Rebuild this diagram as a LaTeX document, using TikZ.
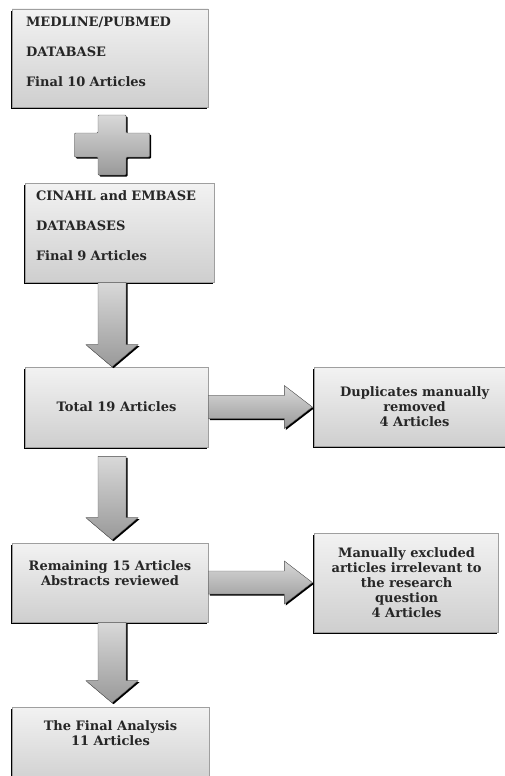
\documentclass[tikz,border=0pt]{standalone}
\usepackage{fontspec}
\setmainfont{DejaVu Serif}
\usetikzlibrary{positioning, calc, shadows}
\tikzset{
  box/.style = {draw = gray!75, line width = 0.6pt, inner sep = 0pt,
    top color = gray!10, bottom color = gray!38, text = black!85, align = center,
    font = \bfseries\fontsize{13pt}{15pt}\selectfont,
    drop shadow = {shadow xshift = -1.3pt, shadow yshift = -1.6pt, fill = black, opacity = 1}},
  listbox/.style = {box, align = left, font = \bfseries\fontsize{13pt}{30pt}\selectfont},
  block/.style = {draw = black!60, line width = 0.4pt, top color = gray!30, bottom color = gray!80,
    drop shadow = {shadow xshift = 1.5pt, shadow yshift = -1.5pt, fill = black, opacity = 1}}
}
% block arrows: #1 start of the shaft, #2 tip
\newcommand\vblock[2]{%
  \filldraw [block] ($(#1)+(-14pt,0)$) -- ($(#2)+(-14pt,22pt)$) -- ($(#2)+(-26pt,22pt)$)
    -- (#2) -- ($(#2)+(26pt,22pt)$) -- ($(#2)+(14pt,22pt)$) -- ($(#1)+(14pt,0)$) -- cycle;}
\newcommand\hblock[2]{%
  \filldraw [block] ($(#1)+(0,11.5pt)$) -- ($(#2)+(-28pt,11.5pt)$) -- ($(#2)+(-28pt,21.5pt)$)
    -- (#2) -- ($(#2)+(-28pt,-21.5pt)$) -- ($(#2)+(-28pt,-11.5pt)$) -- ($(#1)+(0,-11.5pt)$) -- cycle;}

\begin{document}
\begin{tikzpicture}

\useasboundingbox (0,0) rectangle (505pt,-776pt);
\coordinate (axis) at (112pt,0);

% main column
\node [listbox, minimum width = 196pt, minimum height = 98pt, text width = 168pt] (b1)
  at (110pt,-58pt) {MEDLINE/PUBMED\\DATABASE\\Final 10 Articles\\[-18pt]\mbox{}};
\node [listbox, minimum width = 189pt, minimum height = 99pt, text width = 167pt] (b2)
  at (119.5pt,-232.5pt) {CINAHL and EMBASE\\DATABASES\\Final 9 Articles\\[-16pt]\mbox{}};
\node [box, minimum width = 183pt, minimum height = 80pt] (b3)
  at (116.5pt,-407pt) {Total 19 Articles};
\node [box, minimum width = 196pt, minimum height = 79pt] (b4)
  at (110pt,-582.5pt) {Remaining 15 Articles\\Abstracts reviewed\\[3pt]\mbox{}};
\node [box, minimum width = 197pt, minimum height = 79pt] (b5)
  at (110.5pt,-746.5pt) {The Final Analysis\\11 Articles\\[12pt]\mbox{}};

% side boxes
\node [box, minimum width = 200pt, minimum height = 79pt] (dup) [right = 106pt of b3]
  {Duplicates manually\\removed\\4 Articles};
\node [box, minimum width = 184pt, minimum height = 99pt] (excl) [right = 106pt of b4]
  {Manually excluded\\articles irrelevant to\\the research\\question\\4 Articles};

% plus sign
\coordinate (plus) at ($(b1.south -| axis)!0.5!(b2.north -| axis)$);
\filldraw [block, rounded corners = 1pt] ($(plus)+(-14pt,30pt)$) -- ++(28pt,0) -- ++(0,-18pt)
  -- ++(23.5pt,0) -- ++(0,-24pt) -- ++(-23.5pt,0) -- ++(0,-18pt) -- ++(-28pt,0)
  -- ++(0,18pt) -- ++(-23.5pt,0) -- ++(0,24pt) -- ++(23.5pt,0) -- cycle;

% arrows
\coordinate (s2) at ($(b3.south -| axis)+(0,-9pt)$);
\coordinate (t2) at ($(b4.north -| axis)+(0,3pt)$);
\coordinate (t3) at ($(b5.north -| axis)+(0,4pt)$);
\coordinate (r1) at ($(dup.west |- b3.east)+(-2pt,0)$);
\coordinate (r2) at ($(excl.west |- b4.east)+(-2pt,0)$);
\vblock{b2.south -| axis}{b3.north -| axis}
\vblock{s2}{t2}
\vblock{b4.south -| axis}{t3}
\hblock{b3.east}{r1}
\hblock{b4.east}{r2}

\end{tikzpicture}
\end{document}
